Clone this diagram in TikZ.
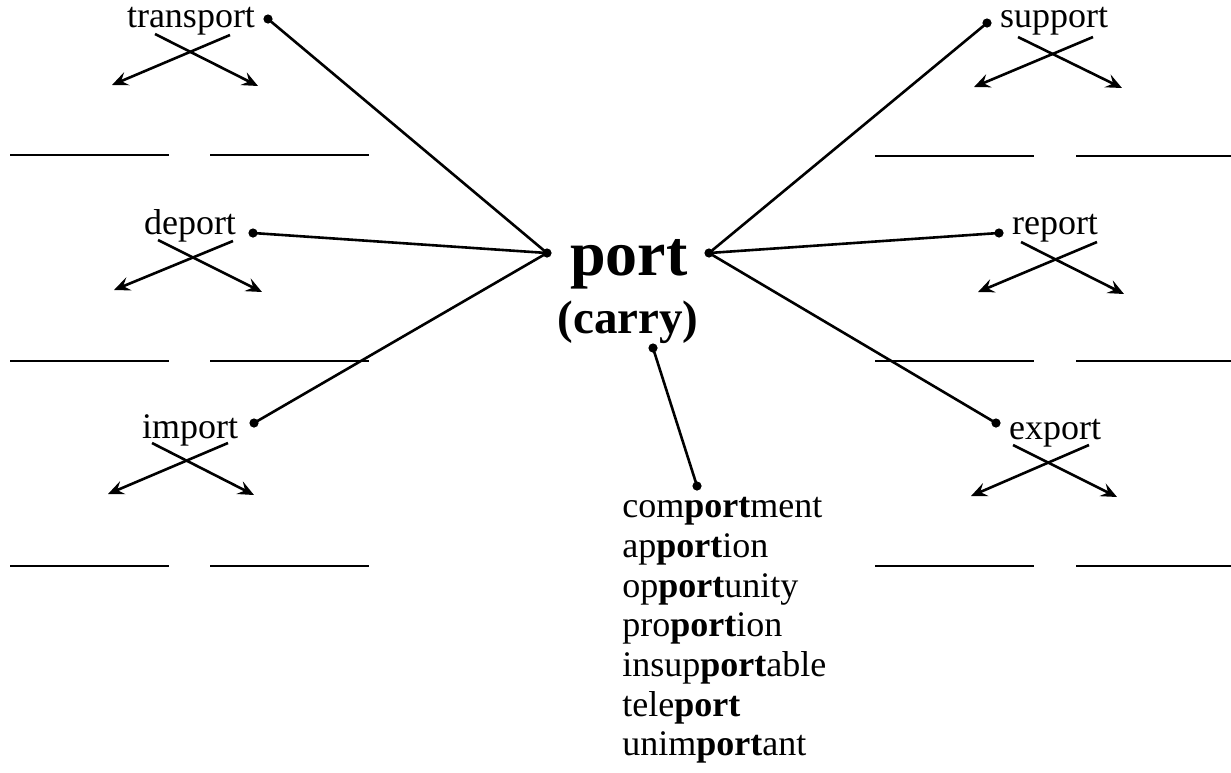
\documentclass[tikz,border=0pt]{standalone}
\usepackage{fontspec}
\setmainfont{Liberation Serif}
\usetikzlibrary{arrows.meta}

\tikzset{
  word/.style={inner sep=0pt, anchor=base, font=\fontsize{18}{22}\selectfont},
  listword/.style={word, anchor=base west},
  hub/.style={inner sep=0pt, anchor=base, font=\bfseries\fontsize{32}{36}\selectfont},
  gloss/.style={inner sep=0pt, anchor=base, font=\bfseries\fontsize{23.5}{28}\selectfont},
  pin/.style={circle, fill=black, inner sep=0pt, minimum size=4.6pt},
  link/.style={line width=1.3pt, shorten <=-0.5pt, shorten >=-0.5pt},
  branch/.style={line width=1.3pt, -{Stealth[length=8pt, width=7pt, inset=3pt]}},
  blank/.style={line width=1.3pt}
}

\begin{document}
\begin{tikzpicture}[x=0.5pt, y=-0.5pt]
  \useasboundingbox (0,0) rectangle (1231,772);

  % central root
  \node[hub] (root) at (629,275) {port};
  \node[gloss] (meaning) at (628,333) {(carry)};
  \node[pin] (rootL) at (547,253) {};
  \node[pin] (rootR) at (709,253) {};
  \node[pin] (rootB) at (653,348) {};

  % derived words, left column
  \node[word] (transport) at (191,27) {transport};
  \node[pin] (transportP) at (268,19) {};
  \node[word] (deport) at (190,234) {deport};
  \node[pin] (deportP) at (253,233) {};
  \node[word] (import) at (190,438) {import};
  \node[pin] (importP) at (254,423) {};

  % derived words, right column
  \node[word] (support) at (1054,27) {support};
  \node[pin] (supportP) at (987,23) {};
  \node[word] (report) at (1055,234) {report};
  \node[pin] (reportP) at (999,233) {};
  \node[word] (export) at (1055,439) {export};
  \node[pin] (exportP) at (996,423) {};

  % spokes from the root
  \draw[link] (rootL) -- (transportP);
  \draw[link] (rootL) -- (deportP);
  \draw[link] (rootL) -- (importP);
  \draw[link] (rootR) -- (supportP);
  \draw[link] (rootR) -- (reportP);
  \draw[link] (rootR) -- (exportP);

  % crossed arrows under each word
  \coordinate (transportA1) at (155,34);  \coordinate (transportB1) at (258,86);
  \coordinate (transportA2) at (230,35);  \coordinate (transportB2) at (112,85);
  \coordinate (deportA1) at (158,240);    \coordinate (deportB1) at (262,292);
  \coordinate (deportA2) at (233,241);    \coordinate (deportB2) at (114,290);
  \coordinate (importA1) at (152,443);    \coordinate (importB1) at (254,495);
  \coordinate (importA2) at (228,443);    \coordinate (importB2) at (108,494);
  \coordinate (supportA1) at (1018,37);   \coordinate (supportB1) at (1122,88);
  \coordinate (supportA2) at (1093,37);   \coordinate (supportB2) at (974,87);
  \coordinate (reportA1) at (1021,242);   \coordinate (reportB1) at (1124,294);
  \coordinate (reportA2) at (1097,242);   \coordinate (reportB2) at (978,292);
  \coordinate (exportA1) at (1013,445);   \coordinate (exportB1) at (1117,497);
  \coordinate (exportA2) at (1089,445);   \coordinate (exportB2) at (971,496);
  \foreach \w in {transport,deport,import,support,report,export}{
    \draw[branch] (\w A1) -- (\w B1);
    \draw[branch] (\w A2) -- (\w B2);
  }

  % answer blanks
  \coordinate (transportL1) at (10,155);   \coordinate (transportL2) at (169,155);
  \coordinate (transportR1) at (210,155);  \coordinate (transportR2) at (369,155);
  \coordinate (deportL1) at (10,361);      \coordinate (deportL2) at (169,361);
  \coordinate (deportR1) at (210,361);     \coordinate (deportR2) at (369,361);
  \coordinate (importL1) at (10,566);      \coordinate (importL2) at (169,566);
  \coordinate (importR1) at (210,566);     \coordinate (importR2) at (369,566);
  \coordinate (supportL1) at (875,156);    \coordinate (supportL2) at (1034,156);
  \coordinate (supportR1) at (1076,156);   \coordinate (supportR2) at (1231,156);
  \coordinate (reportL1) at (875,361);     \coordinate (reportL2) at (1034,361);
  \coordinate (reportR1) at (1076,361);    \coordinate (reportR2) at (1231,361);
  \coordinate (exportL1) at (875,566);     \coordinate (exportL2) at (1034,566);
  \coordinate (exportR1) at (1076,566);    \coordinate (exportR2) at (1231,566);
  \foreach \w in {transport,deport,import,support,report,export}{
    \draw[blank] (\w L1) -- (\w L2);
    \draw[blank] (\w R1) -- (\w R2);
  }

  % list of further words
  \node[pin] (listP) at (697,486) {};
  \draw[link] (rootB) -- (listP);
  \node[listword] (w1) at (622,517) {com\textbf{port}ment};
  \node[listword] (w2) at (622,557) {ap\textbf{port}ion};
  \node[listword] (w3) at (622,597) {op\textbf{port}unity};
  \node[listword] (w4) at (622,636) {pro\textbf{port}ion};
  \node[listword] (w5) at (622,676) {insup\textbf{port}able};
  \node[listword] (w6) at (622,716) {tele\textbf{port}};
  \node[listword] (w7) at (622,755) {unim\textbf{port}ant};
\end{tikzpicture}
\end{document}
